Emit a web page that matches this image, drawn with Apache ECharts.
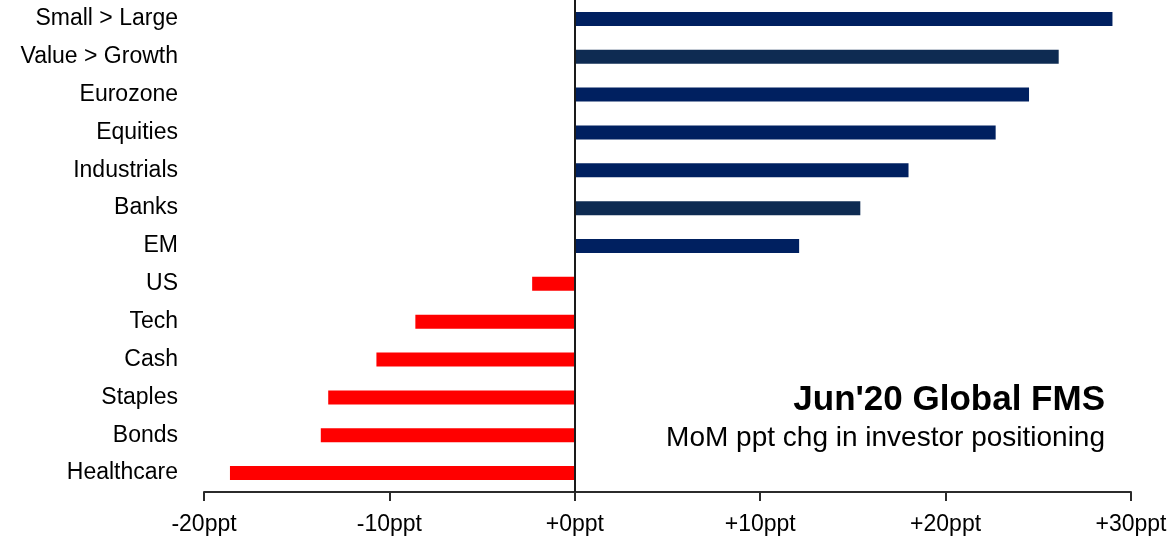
<!DOCTYPE html>
<html>
<head>
<meta charset="utf-8">
<script src="https://cdn.jsdelivr.net/npm/echarts@6/dist/echarts.min.js"></script>
<style>html,body{margin:0;padding:0;background:#fff;}#c{width:1172px;height:538px;}</style>
</head>
<body>
<div id="c"></div>
<script>
var categories = ['Small > Large','Value > Growth','Eurozone','Equities','Industrials','Banks','EM','US','Tech','Cash','Staples','Bonds','Healthcare'];
var values = [29.0, 26.1, 24.5, 22.7, 18.0, 15.4, 12.1, -2.3, -8.6, -10.7, -13.3, -13.7, -18.6];
var barColors = ['#002060','#0e2b52','#002060','#002060','#002060','#0e2b52','#002060','#ff0000','#ff0000','#ff0000','#ff0000','#ff0000','#ff0000'];
var xTickValues = [-20, -10, 0, 10, 20, 30];
var xTickLabels = ['-20ppt','-10ppt','+0ppt','+10ppt','+20ppt','+30ppt'];
var titleText = "Jun'20 Global FMS";
var subtitleText = 'MoM ppt chg in investor positioning';

var chart = echarts.init(document.getElementById('c'), null, {renderer: 'canvas'});
var font = 'Liberation Sans, Arial, sans-serif';
chart.setOption({
  animation: false,
  backgroundColor: '#fff',
  grid: {left: 204, right: 41, top: 0, bottom: 46, containLabel: false},
  xAxis: {
    type: 'value', min: -20, max: 30, interval: 10,
    axisLine: {show: true, onZero: false, lineStyle: {color: '#2b2b2b', width: 2}},
    axisTick: {show: true, length: 9, lineStyle: {color: '#2b2b2b', width: 2}},
    splitLine: {show: false},
    axisLabel: {
      margin: 21, fontSize: 23, color: '#000', fontFamily: font,
      formatter: function (v) { var i = xTickValues.indexOf(v); return i >= 0 ? xTickLabels[i] : ''; }
    }
  },
  yAxis: {
    type: 'category', data: categories, inverse: true,
    axisLine: {show: false}, axisTick: {show: false}, splitLine: {show: false},
    axisLabel: {margin: 26, fontSize: 23, color: '#000', fontFamily: font, padding: [4, 0, 0, 0]}
  },
  series: [{
    type: 'bar',
    barWidth: 14,
    data: values.map(function (v, i) { return {value: v, itemStyle: {color: barColors[i]}}; }),
    markLine: {
      silent: true, symbol: ['none','none'], label: {show: false},
      lineStyle: {color: '#1a1a1a', width: 2, type: 'solid'},
      data: [{xAxis: 0}]
    }
  }],
  graphic: [
    {type: 'text', right: 67, top: 383, style: {text: titleText, font: 'bold 35px ' + font, fill: '#000'}},
    {type: 'text', right: 67, top: 424, style: {text: subtitleText, font: '28px ' + font, fill: '#000'}}
  ]
});
</script>
</body>
</html>
